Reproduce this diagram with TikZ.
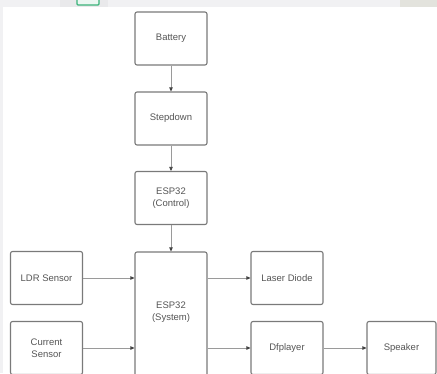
\documentclass[tikz,border=0pt]{standalone}
\usepackage{fontspec}
\setmainfont{Liberation Sans}
\usetikzlibrary{arrows.meta}
\definecolor{boxline}{HTML}{7A7A7A}
\definecolor{txt}{HTML}{555555}
\definecolor{arrline}{HTML}{9A9A9A}
\definecolor{arrhead}{HTML}{444444}
\definecolor{topgray}{HTML}{F1F1F3}
\definecolor{topgray2}{HTML}{E9E9EB}
\definecolor{topbeige}{HTML}{E3E3DD}
\definecolor{icongreen}{HTML}{3BB37A}
\tikzset{
  blk/.style={draw=boxline, line width=1.1pt, rounded corners=2pt, fill=white,
    minimum width=72pt, minimum height=53pt, inner sep=0pt, align=center,
    text=txt, font=\fontsize{9.5}{12}\selectfont},
  lbl/.style={text=txt, align=center, inner sep=0pt, font=\fontsize{9.5}{12}\selectfont},
  arr/.style={draw=arrline, line width=0.7pt, -{Triangle[length=4pt,width=3.5pt,color=arrhead,fill=arrhead]}}
}
\begin{document}
\begin{tikzpicture}[x=1pt,y=-1pt]
\useasboundingbox (0,0) rectangle (437,373);
\clip (0,0) rectangle (437,373);
\fill[white] (0,0) rectangle (437,373);
% top strip and left strip
\fill[topgray] (0,0) rectangle (437,7);
\fill[topgray2] (60,0) rectangle (108,7);
\fill[topbeige] (400,0) rectangle (437,7);
\fill[topgray] (0,0) rectangle (3,373);
\draw[icongreen, line width=1.2pt, rounded corners=1pt, fill=white!90!icongreen] (77,-4) rectangle (99,5);
% nodes
\node[blk] (bat) at (171,38.5) {Battery};
\node[blk] (step) at (171,118.5) {Stepdown};
\node[blk] (ctrl) at (171,198) {ESP32\\(Control)};
\node[blk, minimum height=135pt] (sys) at (171,319.5) {};
\node[lbl] (syslbl) at (171,312) {ESP32\\(System)};
\node[blk] (ldr) at (46.5,278) {LDR Sensor};
\node[blk] (cur) at (46.5,348) {Current\\Sensor};
\node[blk] (laser) at (287,278) {Laser Diode};
\node[blk] (dfp) at (287,348) {Dfplayer};
\node[blk, minimum width=69pt] (spk) at (401.5,348) {Speaker};
% connectors
\draw[arr] (bat.south) -- (step.north);
\draw[arr] (step.south) -- (ctrl.north);
\draw[arr] (ctrl.south) -- (sys.north);
\draw[arr] (ldr.east) -- (sys.west |- ldr.east);
\draw[arr] (cur.east) -- (sys.west |- cur.east);
\draw[arr] (sys.east |- laser.west) -- (laser.west);
\draw[arr] (sys.east |- dfp.west) -- (dfp.west);
\draw[arr] (dfp.east) -- (spk.west);
\end{tikzpicture}
\end{document}
